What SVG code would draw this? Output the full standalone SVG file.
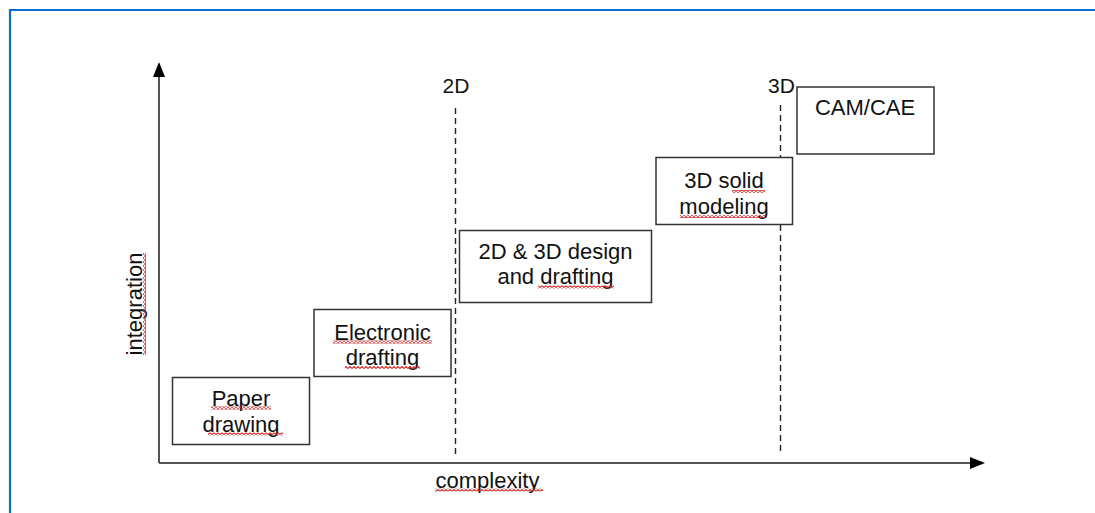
<svg xmlns="http://www.w3.org/2000/svg" width="1095" height="513" viewBox="0 0 1095 513">
  <style>
    .frame { fill: none; stroke: #0a6bd0; stroke-width: 2.2; }
    .axis { fill: none; stroke: #555; stroke-width: 2; }
    .guide { fill: none; stroke: #222; stroke-width: 1.4; stroke-dasharray: 6 4; }
    .box { fill: #fff; stroke: #333; stroke-width: 1.5; }
    .lbl { font-family: "Liberation Sans", Arial, Helvetica, sans-serif; font-size: 22px; fill: #111; text-anchor: middle; }
    .tick { font-family: "Liberation Sans", Arial, Helvetica, sans-serif; font-size: 21px; fill: #111; text-anchor: middle; }
    .sq { fill: url(#squiggle); }
    .sqv { fill: url(#squiggleV); }
  </style>
  <defs>
    <marker id="head" viewBox="0 0 15 12" refX="0" refY="6" markerWidth="15" markerHeight="12" markerUnits="userSpaceOnUse" orient="auto">
      <path d="M0,0 L15,6 L0,12 Z" fill="#000"/>
    </marker>
    <!-- red spell-check wave, horizontal and vertical -->
    <pattern id="squiggle" width="4" height="3" patternUnits="userSpaceOnUse">
      <path d="M0,2.5 L2,0.5 L4,2.5" fill="none" stroke="#d42a2a" stroke-width="1.1"/>
    </pattern>
    <pattern id="squiggleV" width="3" height="4" patternUnits="userSpaceOnUse">
      <path d="M0.5,0 L2.5,2 L0.5,4" fill="none" stroke="#d42a2a" stroke-width="1.1"/>
    </pattern>
  </defs>

  <rect width="1095" height="513" fill="#fff"/>
  <path class="frame" d="M10,513 L10,10 L1095,10"/>

  <g id="connectors">
    <line class="axis" x1="159" y1="463" x2="159" y2="77" marker-end="url(#head)"/>
    <line class="axis" x1="159" y1="463" x2="970" y2="463" marker-end="url(#head)"/>
    <line class="guide" x1="455.5" y1="108" x2="455.5" y2="455"/>
    <line class="guide" x1="780.5" y1="105" x2="780.5" y2="455"/>
  </g>

  <g id="axis-labels">
    <text class="lbl" x="487.5" y="488">complexity</text>
    <rect class="sq" x="435" y="488.5" width="108" height="3"/>
    <text class="lbl" transform="translate(142,304) rotate(-90)">integration</text>
    <rect class="sqv" x="143" y="253" width="3" height="102"/>
    <text class="tick" x="456" y="93">2D</text>
    <text class="tick" x="781.5" y="93">3D</text>
  </g>

  <g id="paper-drawing">
    <rect class="box" x="172.5" y="377.5" width="137" height="67"/>
    <text class="lbl" x="241" y="405.5">Paper</text>
    <text class="lbl" x="241" y="431.5">drawing</text>
    <rect class="sq" x="211" y="406.5" width="60" height="3"/>
    <rect class="sq" x="208" y="432.5" width="75" height="3"/>
  </g>

  <g id="electronic-drafting">
    <rect class="box" x="314" y="309.5" width="137" height="67"/>
    <text class="lbl" x="382.5" y="339.5">Electronic</text>
    <text class="lbl" x="382.5" y="365">drafting</text>
    <rect class="sq" x="333" y="340.5" width="99" height="3"/>
    <rect class="sq" x="345" y="366" width="75" height="3"/>
  </g>

  <g id="design-drafting">
    <rect class="box" x="459.5" y="230.5" width="192" height="72"/>
    <text class="lbl" x="555.5" y="259">2D &amp; 3D design</text>
    <text class="lbl" x="555.5" y="284">and drafting</text>
    <rect class="sq" x="538" y="285.5" width="76" height="3"/>
  </g>

  <g id="solid-modeling">
    <rect class="box" x="656" y="157.5" width="136.5" height="67"/>
    <text class="lbl" x="724" y="187.5">3D solid</text>
    <text class="lbl" x="724" y="213.5">modeling</text>
    <rect class="sq" x="732" y="190" width="33" height="3"/>
    <rect class="sq" x="680" y="215" width="85" height="3"/>
  </g>

  <g id="cam-cae">
    <rect class="box" x="797" y="87" width="137" height="67"/>
    <text class="lbl" x="865" y="115">CAM/CAE</text>
  </g>
</svg>
